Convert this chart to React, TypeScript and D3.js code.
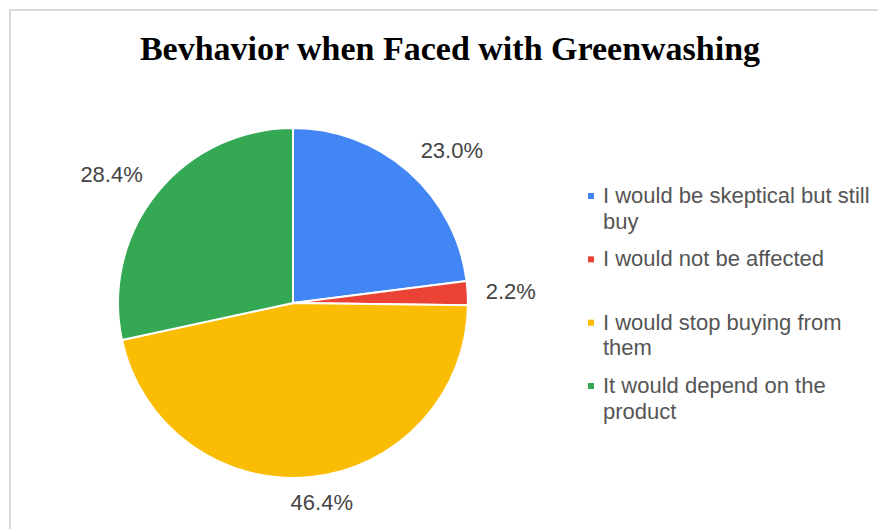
import React, { useEffect, useRef } from "react";
import * as d3 from "d3";

const title = "Bevhavior when Faced with Greenwashing";
const categories = [
  "I would be skeptical but still buy",
  "I would not be affected",
  "I would stop buying from them",
  "It would depend on the product",
];
const legendLines = [
  ["I would be skeptical but still", "buy"],
  ["I would not be affected"],
  ["I would stop buying from", "them"],
  ["It would depend on the", "product"],
];
const values = [23.0, 2.2, 46.4, 28.4];
const colors = ["#4285f4", "#ea4335", "#fbbc04", "#34a853"];

const W = 878;
const H = 529;

export default function App() {
  const ref = useRef<SVGSVGElement>(null);
  useEffect(() => {
    const svg = d3.select(ref.current);
    svg.selectAll("*").remove();

    svg.append("rect").attr("width", W).attr("height", H).attr("fill", "#fff");
    svg
      .append("rect")
      .attr("x", 10)
      .attr("y", 10)
      .attr("width", W + 20)
      .attr("height", H + 20)
      .attr("fill", "none")
      .attr("stroke", "#d9d9d9")
      .attr("stroke-width", 2);

    svg
      .append("text")
      .attr("x", 450)
      .attr("y", 60)
      .attr("text-anchor", "middle")
      .attr("font-family", "'Liberation Serif', 'Times New Roman', serif")
      .attr("font-weight", "bold")
      .attr("font-size", 34)
      .attr("fill", "#000")
      .text(title);

    const cx = 293, cy = 303, r = 175;
    const g = svg.append("g").attr("transform", `translate(${cx},${cy})`);
    const pie = d3.pie<number>().sort(null).value((d) => d);
    const arcs = pie(values);
    const arc = d3.arc<d3.PieArcDatum<number>>().innerRadius(0).outerRadius(r);

    g.selectAll("path.slice")
      .data(arcs)
      .join("path")
      .attr("class", "slice")
      .attr("d", arc)
      .attr("fill", (_, i) => colors[i])
      .attr("stroke", "#fff")
      .attr("stroke-width", 2)
      .attr("stroke-linejoin", "round");

    const fmt = d3.format(".1f");
    const dist = 193;
    const capH = 15;
    const clamp = (v: number) => Math.max(-1, Math.min(1, v));
    arcs.forEach((a) => {
      const mid = (a.startAngle + a.endAngle) / 2;
      const sx = Math.sin(mid), sy = -Math.cos(mid);
      const t = g
        .append("text")
        .attr("font-family", "Arial, 'Liberation Sans', sans-serif")
        .attr("font-size", 22)
        .attr("fill", "#444")
        .attr("text-anchor", "middle")
        .attr("dy", "0.35em")
        .text(fmt(a.data) + "%");
      const w = (t.node() as SVGTextElement).getComputedTextLength();
      const px = sx * dist + clamp(sx * 3) * (w / 2);
      const py = sy * dist + clamp(sy * 3) * (capH / 2);
      t.attr("x", px).attr("y", py);
    });

    const legendY = d3
      .scalePoint<string>()
      .domain(categories)
      .range([203, 393]);
    const lineH = 25.5;
    const lg = svg.append("g");
    categories.forEach((c, i) => {
      const y0 = legendY(c)!;
      lg.append("rect")
        .attr("x", 588)
        .attr("y", y0 - 10)
        .attr("width", 6)
        .attr("height", 6)
        .attr("fill", colors[i]);
      legendLines[i].forEach((line, j) => {
        lg.append("text")
          .attr("x", 603)
          .attr("y", y0 + j * lineH)
          .attr("font-family", "Arial, 'Liberation Sans', sans-serif")
          .attr("font-size", 22)
          .attr("fill", "#555")
          .text(line);
      });
    });
  }, []);

  return (
    <svg
      ref={ref}
      width={W}
      height={H}
      style={{ position: "absolute", left: 0, top: 0, display: "block" }}
    />
  );
}
